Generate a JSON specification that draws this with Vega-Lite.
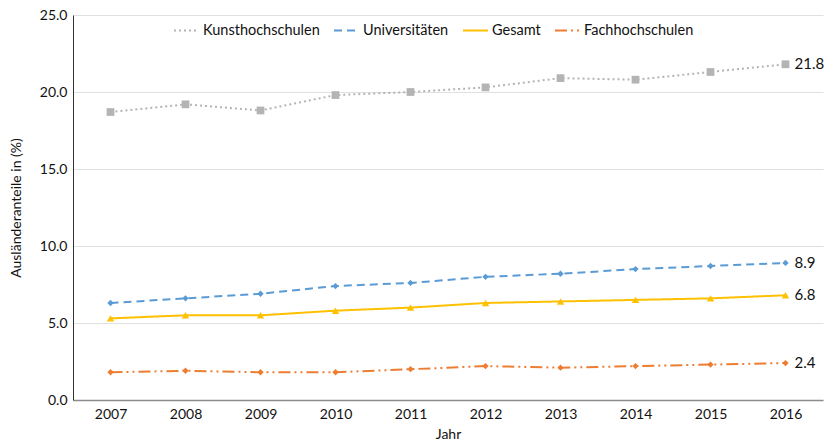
{
  "$schema": "https://vega.github.io/schema/vega-lite/v6.json",
  "width": 750,
  "height": 385,
  "autosize": {"type": "none"},
  "padding": {"left": 73, "top": 15, "right": 3, "bottom": 45},
  "background": "white",
  "config": {
    "font": "Lato",
    "view": {"stroke": null},
    "axis": {"labelFont": "Lato", "titleFont": "Lato", "labelFontSize": 14, "titleFontSize": 14, "labelColor": "#111", "titleColor": "#111", "titleFontWeight": "normal", "ticks": false},
    "legend": {"labelFont": "Lato", "labelFontSize": 14.5, "labelColor": "#111"}
  },
  "data": {
    "values": [
      {"Jahr": "2007", "Typ": "Kunsthochschulen", "Wert": 18.7},
      {"Jahr": "2008", "Typ": "Kunsthochschulen", "Wert": 19.2},
      {"Jahr": "2009", "Typ": "Kunsthochschulen", "Wert": 18.8},
      {"Jahr": "2010", "Typ": "Kunsthochschulen", "Wert": 19.8},
      {"Jahr": "2011", "Typ": "Kunsthochschulen", "Wert": 20.0},
      {"Jahr": "2012", "Typ": "Kunsthochschulen", "Wert": 20.3},
      {"Jahr": "2013", "Typ": "Kunsthochschulen", "Wert": 20.9},
      {"Jahr": "2014", "Typ": "Kunsthochschulen", "Wert": 20.8},
      {"Jahr": "2015", "Typ": "Kunsthochschulen", "Wert": 21.3},
      {"Jahr": "2016", "Typ": "Kunsthochschulen", "Wert": 21.8},
      {"Jahr": "2007", "Typ": "Universitäten", "Wert": 6.3},
      {"Jahr": "2008", "Typ": "Universitäten", "Wert": 6.6},
      {"Jahr": "2009", "Typ": "Universitäten", "Wert": 6.9},
      {"Jahr": "2010", "Typ": "Universitäten", "Wert": 7.4},
      {"Jahr": "2011", "Typ": "Universitäten", "Wert": 7.6},
      {"Jahr": "2012", "Typ": "Universitäten", "Wert": 8.0},
      {"Jahr": "2013", "Typ": "Universitäten", "Wert": 8.2},
      {"Jahr": "2014", "Typ": "Universitäten", "Wert": 8.5},
      {"Jahr": "2015", "Typ": "Universitäten", "Wert": 8.7},
      {"Jahr": "2016", "Typ": "Universitäten", "Wert": 8.9},
      {"Jahr": "2007", "Typ": "Gesamt", "Wert": 5.3},
      {"Jahr": "2008", "Typ": "Gesamt", "Wert": 5.5},
      {"Jahr": "2009", "Typ": "Gesamt", "Wert": 5.5},
      {"Jahr": "2010", "Typ": "Gesamt", "Wert": 5.8},
      {"Jahr": "2011", "Typ": "Gesamt", "Wert": 6.0},
      {"Jahr": "2012", "Typ": "Gesamt", "Wert": 6.3},
      {"Jahr": "2013", "Typ": "Gesamt", "Wert": 6.4},
      {"Jahr": "2014", "Typ": "Gesamt", "Wert": 6.5},
      {"Jahr": "2015", "Typ": "Gesamt", "Wert": 6.6},
      {"Jahr": "2016", "Typ": "Gesamt", "Wert": 6.8},
      {"Jahr": "2007", "Typ": "Fachhochschulen", "Wert": 1.8},
      {"Jahr": "2008", "Typ": "Fachhochschulen", "Wert": 1.9},
      {"Jahr": "2009", "Typ": "Fachhochschulen", "Wert": 1.8},
      {"Jahr": "2010", "Typ": "Fachhochschulen", "Wert": 1.8},
      {"Jahr": "2011", "Typ": "Fachhochschulen", "Wert": 2.0},
      {"Jahr": "2012", "Typ": "Fachhochschulen", "Wert": 2.2},
      {"Jahr": "2013", "Typ": "Fachhochschulen", "Wert": 2.1},
      {"Jahr": "2014", "Typ": "Fachhochschulen", "Wert": 2.2},
      {"Jahr": "2015", "Typ": "Fachhochschulen", "Wert": 2.3},
      {"Jahr": "2016", "Typ": "Fachhochschulen", "Wert": 2.4}
    ]
  },
  "encoding": {
    "x": {
      "field": "Jahr", "type": "ordinal",
      "scale": {"type": "point", "padding": 0.5},
      "axis": {"title": "Jahr", "labelAngle": 0, "labelPadding": 7, "titlePadding": 6, "domainColor": "#8c8c8c", "domainWidth": 1.5, "grid": false}
    },
    "y": {
      "field": "Wert", "type": "quantitative",
      "scale": {"domain": [0, 25]},
      "axis": {"title": "Ausländeranteile in (%)", "format": ".1f", "values": [0, 5, 10, 15, 20, 25], "labelPadding": 6, "titlePadding": 16, "domainColor": "#333", "domainWidth": 1, "grid": true, "gridColor": "#e0e0e0", "gridWidth": 1.2}
    }
  },
  "layer": [
    {
      "mark": {"type": "line", "strokeWidth": 2},
      "encoding": {
        "color": {
          "field": "Typ", "type": "nominal",
          "scale": {"domain": ["Kunsthochschulen", "Universitäten", "Gesamt", "Fachhochschulen"], "range": ["#b4b4b4", "#5b9bd5", "#ffc000", "#ed7d31"]},
          "legend": {"title": null, "orient": "none", "direction": "horizontal", "legendX": 100, "legendY": 2, "symbolType": "stroke", "symbolSize": 625, "symbolStrokeWidth": 2, "columnPadding": 10, "labelOffset": 3}
        },
        "strokeDash": {
          "field": "Typ", "type": "nominal",
          "scale": {"domain": ["Kunsthochschulen", "Universitäten", "Gesamt", "Fachhochschulen"], "range": [[2, 3], [8, 5], [1, 0], [12, 4, 2, 4, 2, 4]]},
          "legend": {"title": null, "orient": "none", "direction": "horizontal", "legendX": 100, "legendY": 2, "symbolType": "stroke", "symbolSize": 625, "symbolStrokeWidth": 2, "columnPadding": 10, "labelOffset": 3}
        }
      }
    },
    {
      "transform": [{"filter": "datum.Typ == 'Kunsthochschulen'"}],
      "mark": {"type": "point", "filled": true, "opacity": 1, "shape": "square", "size": 60, "color": "#b4b4b4"}
    },
    {
      "transform": [{"filter": "datum.Typ == 'Universitäten'"}],
      "mark": {"type": "point", "filled": true, "opacity": 1, "shape": "diamond", "size": 40, "color": "#5b9bd5"}
    },
    {
      "transform": [{"filter": "datum.Typ == 'Gesamt'"}],
      "mark": {"type": "point", "filled": true, "opacity": 1, "shape": "triangle-up", "size": 55, "color": "#ffc000"}
    },
    {
      "transform": [{"filter": "datum.Typ == 'Fachhochschulen'"}],
      "mark": {"type": "point", "filled": true, "opacity": 1, "shape": "diamond", "size": 40, "color": "#ed7d31"}
    },
    {
      "transform": [{"filter": "datum.Jahr == '2016'"}],
      "mark": {"type": "text", "align": "left", "baseline": "middle", "dx": 9, "fontSize": 15, "color": "#111", "font": "Lato"},
      "encoding": {
        "text": {"field": "Wert", "type": "quantitative", "format": ".1f"}
      }
    }
  ]
}
